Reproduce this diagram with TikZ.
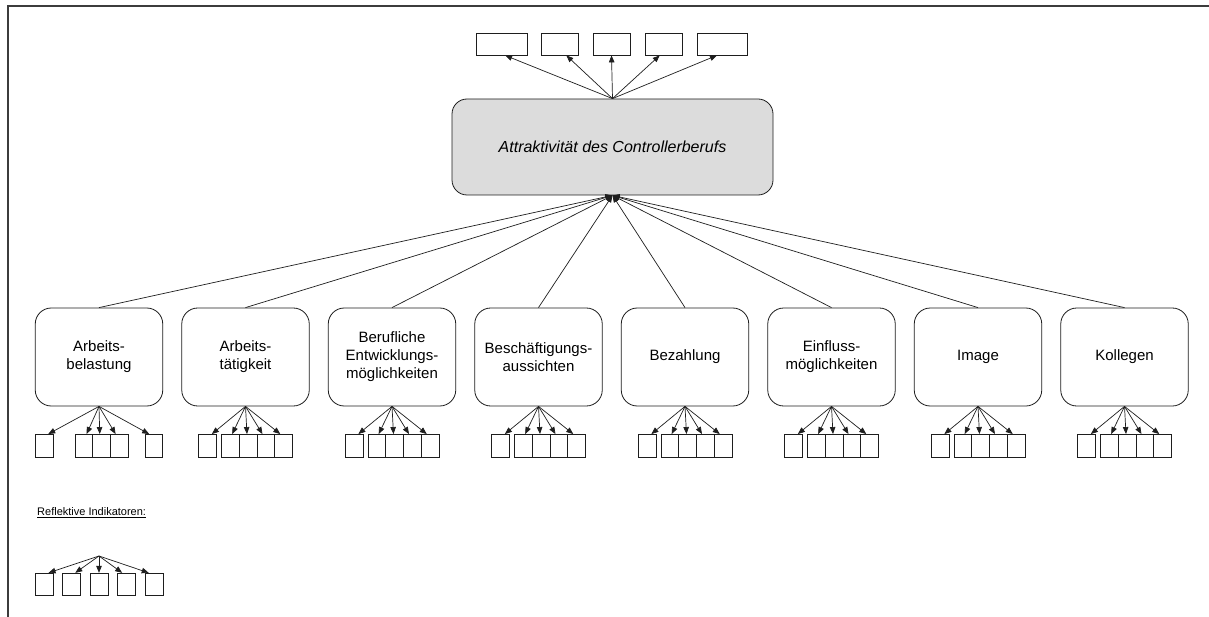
\documentclass[tikz,border=0pt]{standalone}
\usepackage{fontspec}
\setmainfont{Liberation Sans}
\usetikzlibrary{arrows.meta,calc}
\definecolor{linec}{RGB}{30,30,30}
\definecolor{framec}{RGB}{60,60,60}
\definecolor{mainfill}{RGB}{220,220,220}
\begin{document}
\begin{tikzpicture}[x=1pt,y=-1pt,
  ind/.style={draw=linec, line width=0.8pt, minimum width=17.7pt, minimum height=22.5pt, inner sep=0pt},
  topind/.style={draw=linec, line width=0.8pt, minimum height=22pt, inner sep=0pt},
  lat/.style={draw=linec, line width=0.8pt, rounded corners=16pt, minimum width=127.5pt, minimum height=98pt, inner sep=2pt, align=center, font=\fontsize{15}{18}\selectfont},
  mainbox/.style={draw=linec, line width=0.8pt, fill=mainfill, rounded corners=15pt, minimum width=321pt, minimum height=96pt, font=\fontsize{16}{19}\selectfont\itshape},
  arr/.style={-{Triangle[length=7pt,width=5.5pt]}, line width=0.7pt, draw=linec}
]
\useasboundingbox (0,0) rectangle (1209,617);
\fill[white] (0,0) rectangle (1209,617);
\draw[framec, line width=1.6pt] (8,617) -- (8,6) -- (1209,6);

% main construct
\node[mainbox] (M) at (612.5,147) {Attraktivität des Controllerberufs};

% top indicators
\node[topind, minimum width=51pt] (T1) at (501.5,44) {};
\node[topind, minimum width=37pt] (T2) at (559.5,44) {};
\node[topind, minimum width=37pt] (T3) at (611.5,44) {};
\node[topind, minimum width=37pt] (T4) at (663.5,44) {};
\node[topind, minimum width=50pt] (T5) at (722,44) {};
\foreach \j/\f in {1/0.57, 2/0.68, 3/0.5, 4/0.4, 5/0.4} {
  \draw[arr] (M.north) -- ($(T\j.south west)!\f!(T\j.south east)$);
}

% lower constructs
\foreach \i/\txt in {1/{Arbeits-\\belastung}, 2/{Arbeits-\\tätigkeit}, 3/{Berufliche\\Entwicklungs-\\möglichkeiten}, 4/{Beschäftigungs-\\aussichten}, 5/{Bezahlung}, 6/{Einfluss-\\möglichkeiten}, 7/{Image}, 8/{Kollegen}} {
  \node[lat] (L\i) at ({99+146.5*(\i-1)},357) {\txt};
  \draw[arr] (L\i.north) -- (M.south);
}

% indicators of construct 1
\foreach \j/\dx/\f in {1/-54.5/0.7, 2/-15.2/0.65, 3/2.6/0.4, 4/20.3/0.3, 5/54.8/0.25} {
  \node[ind] (L1-\j) at ($(L1.south)+(\dx,39.3)$) {};
  \draw[arr] (L1.south) -- ($(L1-\j.north west)!\f!(L1-\j.north east)$);
}
% indicators of constructs 2..8
\foreach \i in {2,...,8} {
  \foreach \j/\dx/\f in {1/-37.9/0.73, 2/-15.2/0.6, 3/2.6/0.44, 4/20.3/0.32, 5/38.1/0.32} {
    \node[ind] (L\i-\j) at ($(L\i.south)+(\dx,39.3)$) {};
    \draw[arr] (L\i.south) -- ($(L\i-\j.north west)!\f!(L\i-\j.north east)$);
  }
}

% legend
\node[anchor=west, inner sep=0pt, font=\fontsize{11}{13}\selectfont] (leg) at (37,513) {\underline{Reflektive Indikatoren:}};
\coordinate (R0) at (99,556);
\foreach \j/\x/\f in {1/44/0.74, 2/71.5/0.7, 3/99/0.5, 4/126.5/0.27, 5/154/0.22} {
  \node[ind, minimum width=18pt] (R\j) at (\x,584.5) {};
  \draw[arr] (R0) -- ($(R\j.north west)!\f!(R\j.north east)$);
}
\end{tikzpicture}
\end{document}
